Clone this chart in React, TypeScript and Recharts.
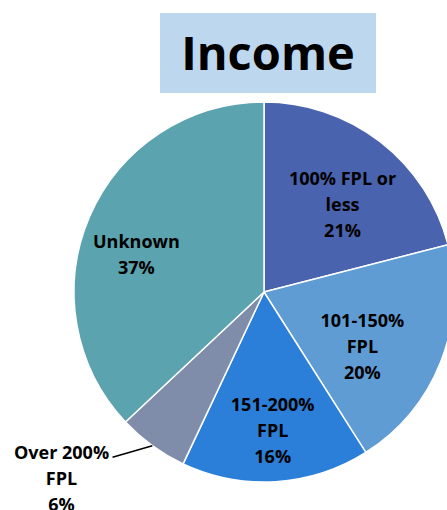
import React from "react";
import { PieChart, Pie, Cell } from "recharts";

const categories = ["100% FPL or less", "101-150% FPL", "151-200% FPL", "Over 200% FPL", "Unknown"];
const shares = [21, 20, 16, 6, 37];
const labelLines = [
  ["100% FPL or", "less", "21%"],
  ["101-150%", "FPL", "20%"],
  ["151-200%", "FPL", "16%"],
  ["Over 200%", "FPL", "6%"],
  ["Unknown", "37%"],
];
const colors = ["#4a63ae", "#5e9cd3", "#2b7fd8", "#7f8daa", "#5ba3ae"];

const data = categories.map((name, i) => ({ name, value: shares[i], lines: labelLines[i] }));

// label placement style: radial fraction and compass-angle nudge
const labelPlace = [
  { r: 0.62, nudge: 4 },
  { r: 0.59, nudge: 7 },
  { r: 0.73, nudge: 0 },
  { r: 1.18, nudge: 6.5, outside: true },
  { r: 0.7, nudge: -7 },
];

const FONT = "'Open Sans', sans-serif";
const LINE_H = 26;

const renderLabel = (props: any) => {
  const { cx, cy, midAngle, outerRadius, index, payload } = props;
  const lines: string[] = (payload && payload.lines) || data[index].lines;
  const place = labelPlace[index];
  const compass = 90 - midAngle + place.nudge;
  const rad = (compass * Math.PI) / 180;
  const r = outerRadius * place.r;
  const x = cx + r * Math.sin(rad);
  const y = cy - r * Math.cos(rad);
  if (place.outside) {
    const rad0 = ((90 - midAngle) * Math.PI) / 180;
    const sx = cx + outerRadius * Math.sin(rad0);
    const sy = cy - outerRadius * Math.cos(rad0);
    const tx = x - 51;
    const ty = y - 5;
    return (
      <g>
        <line x1={sx} y1={sy} x2={x} y2={y} stroke="#000" strokeWidth={1.5} />
        {lines.map((t, i) => (
          <text key={i} x={tx} y={ty + i * LINE_H} textAnchor="middle" dominantBaseline="central"
            fontFamily={FONT} fontWeight={700} fontSize={18} fill="#000">{t}</text>
        ))}
      </g>
    );
  }
  const n = lines.length;
  return (
    <g>
      {lines.map((t, i) => (
        <text key={i} x={x} y={y + (i - (n - 1) / 2) * LINE_H} textAnchor="middle" dominantBaseline="central"
          fontFamily={FONT} fontWeight={700} fontSize={18} fill="#000">{t}</text>
      ))}
    </g>
  );
};

export default function App() {
  return (
    <div style={{ position: "absolute", left: 0, top: 0, width: 447, height: 510, background: "#fff", overflow: "hidden" }}>
      <div style={{
        position: "absolute", left: 160, top: 13, width: 216, height: 80, background: "#bdd7ee",
        display: "flex", alignItems: "center", justifyContent: "center",
        fontFamily: FONT, fontWeight: 700, fontSize: 47, color: "#000", lineHeight: 1,
      }}>
        <span style={{ position: "relative", top: -1 }}>Income</span>
      </div>
      <div style={{ position: "absolute", left: 0, top: 0 }}>
        <PieChart width={447} height={510} margin={{ top: 0, right: 0, bottom: 0, left: 0 }}>
          <Pie
            data={data}
            dataKey="value"
            nameKey="name"
            cx={264}
            cy={292}
            outerRadius={190}
            startAngle={90}
            endAngle={-270}
            stroke="#fff"
            strokeWidth={1.5}
            isAnimationActive={false}
            label={renderLabel}
            labelLine={false}
          >
            {data.map((d, i) => (
              <Cell key={d.name} fill={colors[i]} />
            ))}
          </Pie>
        </PieChart>
      </div>
    </div>
  );
}
